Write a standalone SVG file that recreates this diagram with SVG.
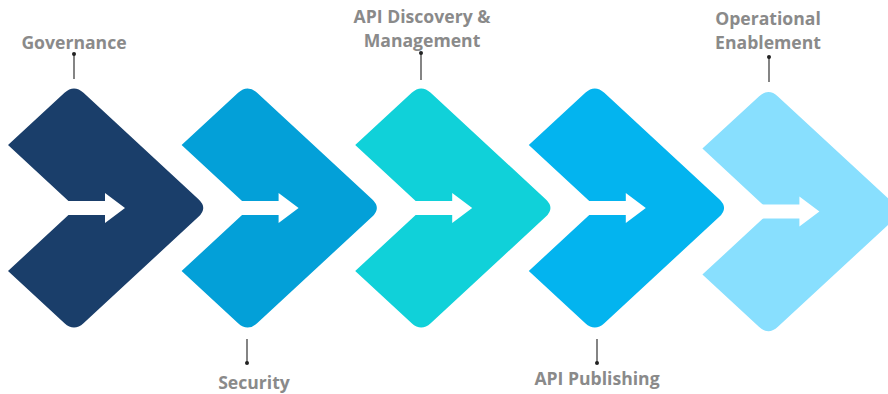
<svg xmlns="http://www.w3.org/2000/svg" xmlns:xlink="http://www.w3.org/1999/xlink" width="888" height="394" viewBox="0 0 888 394">
<style>
.lbl{font-family:"Open Sans","Liberation Sans",sans-serif;font-weight:700;font-size:17.6px;fill:#8a8a8a;text-anchor:middle}
.lead{stroke:#333;stroke-width:1.2;fill:none}
.dot{fill:#222}
.arr{fill:#fff}
</style>
<defs>
<path id="chev" d="M -9.5 8.8 Q 0 0 9.5 8.8 L 124.5 115.2 Q 134 124 124.5 132.8 L 9.5 239.2 Q 0 248 -9.5 239.2 L -66 187 L 2 124 L -66 61 Z"/>
<path id="arrow" d="M -20 117 L 31 117 L 31 109 L 51 124 L 31 139 L 31 131 L -20 131 Z"/>
</defs>
<rect width="888" height="394" fill="#fff"/>
<g id="governance" transform="translate(74,84)">
<use xlink:href="#chev" href="#chev" fill="#1a3e6a"/>
<use xlink:href="#arrow" href="#arrow" class="arr"/>
</g>
<g id="security" transform="translate(247.6,84)">
<use xlink:href="#chev" href="#chev" fill="#03a0d8"/>
<use xlink:href="#arrow" href="#arrow" class="arr"/>
</g>
<g id="api-discovery" transform="translate(421.2,84)">
<use xlink:href="#chev" href="#chev" fill="#10d1d9"/>
<use xlink:href="#arrow" href="#arrow" class="arr"/>
</g>
<g id="api-publishing" transform="translate(594.8,84)">
<use xlink:href="#chev" href="#chev" fill="#03b4ef"/>
<use xlink:href="#arrow" href="#arrow" class="arr"/>
</g>
<g id="operational" transform="translate(768.4,87.6)">
<use xlink:href="#chev" href="#chev" fill="#88dffe"/>
<use xlink:href="#arrow" href="#arrow" class="arr"/>
</g>
<g id="connectors">
<line class="lead" x1="74" y1="54" x2="74" y2="79"/><circle class="dot" cx="74" cy="54" r="2"/>
<line class="lead" x1="247" y1="339" x2="247" y2="363"/><circle class="dot" cx="247" cy="363" r="2"/>
<line class="lead" x1="421" y1="53" x2="421" y2="80"/><circle class="dot" cx="421" cy="53" r="2"/>
<line class="lead" x1="597" y1="339" x2="597" y2="363"/><circle class="dot" cx="597" cy="363" r="2"/>
<line class="lead" x1="769" y1="57" x2="769" y2="82"/><circle class="dot" cx="769" cy="57" r="2"/>
</g>
<g id="labels">
<text class="lbl" x="74" y="48.5">Governance</text>
<text class="lbl" x="254" y="389">Security</text>
<text class="lbl" x="422" y="22.5">API Discovery &amp;</text>
<text class="lbl" x="422" y="46.5">Management</text>
<text class="lbl" x="768" y="24.5">Operational</text>
<text class="lbl" x="768" y="48.5">Enablement</text>
<text class="lbl" x="597" y="385">API Publishing</text>
</g>
</svg>
